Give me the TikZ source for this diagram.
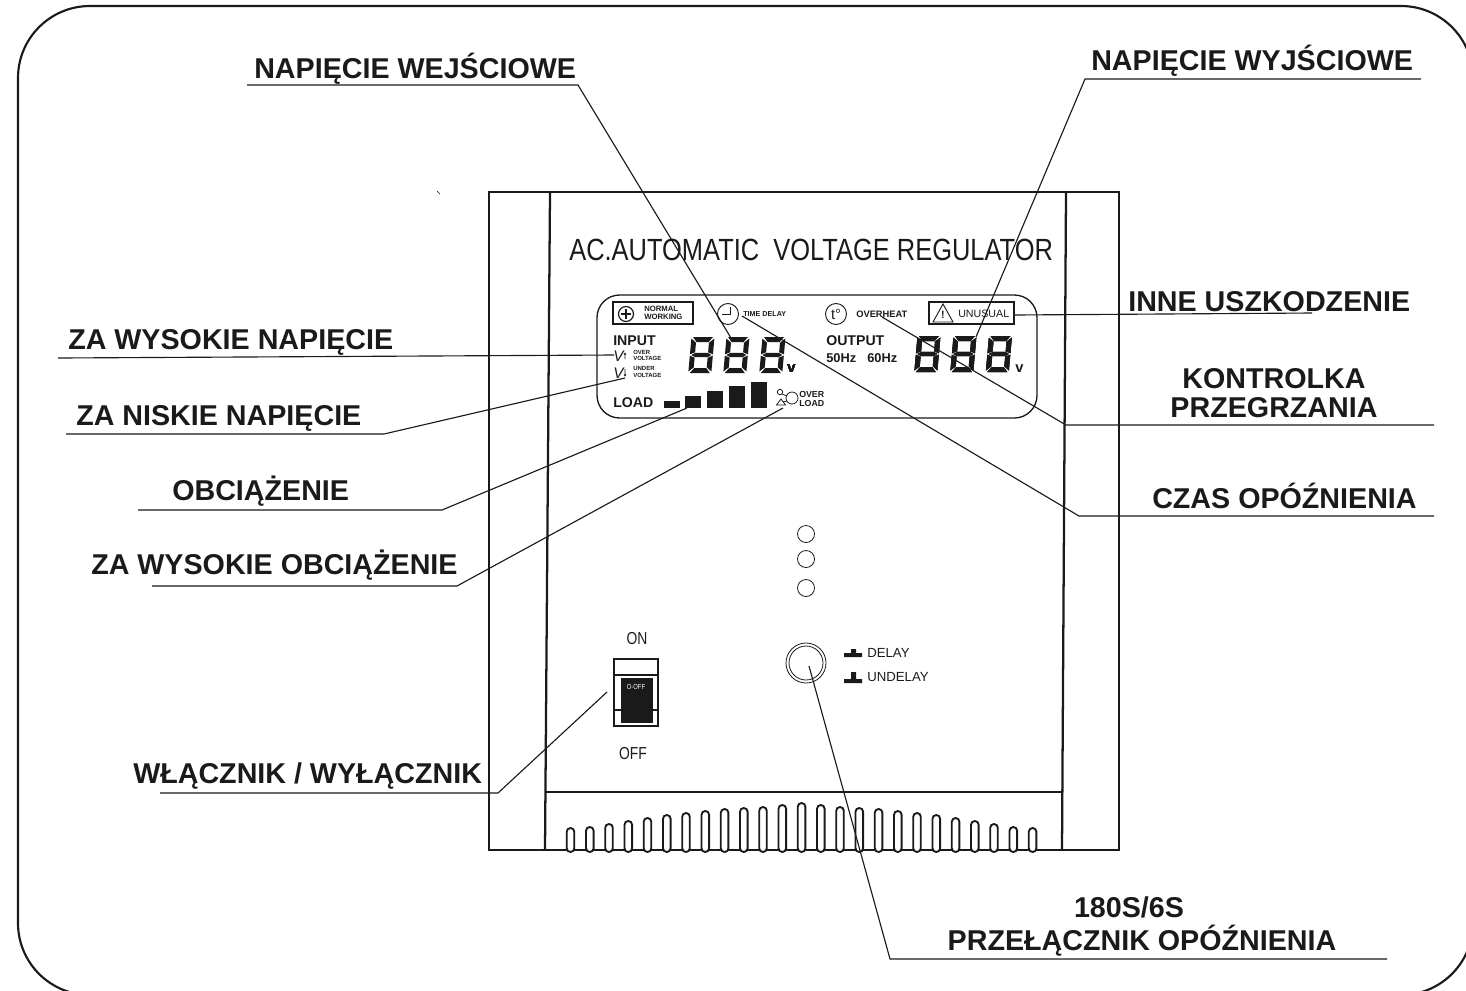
\documentclass[tikz,border=0pt]{standalone}
\usepackage{fontspec}
\setmainfont{Liberation Sans}
\newfontfamily\narrowfont[FakeStretch=0.8]{Liberation Sans}
\newfontfamily\titlefont[FakeStretch=0.83]{Liberation Sans}
\definecolor{ink}{HTML}{1A1A1A}
\tikzset{
	lbl/.style={font=\bfseries\fontsize{21.5}{24}\selectfont,inner sep=0,anchor=base west,text=ink},
	lblc/.style={lbl,anchor=base},
	lead/.style={ink,line width=0.85pt},
	body/.style={ink,line width=1.7pt},
	tiny/.style={font=\bfseries\fontsize{5.8}{6.2}\selectfont,inner sep=0,align=left,anchor=west,text=ink},
	small/.style={tiny,font=\bfseries\fontsize{4.5}{4.8}\selectfont},
	lcd/.style={font=\bfseries\fontsize{10.6}{11}\selectfont,inner sep=0,anchor=west,text=ink},
	hertz/.style={lcd,font=\bfseries\fontsize{9.6}{10}\selectfont},
	volt/.style={lcd,font=\mdseries\itshape\fontsize{11.5}{12}\selectfont},
	thin/.style={font=\fontsize{9.9}{10}\selectfont,inner sep=0,anchor=west,text=ink},
	condensed/.style={font=\narrowfont\fontsize{13}{14}\selectfont,inner sep=0,text=ink}
}
\newcommand{\segdigit}[2]{
	\begin{scope}[shift={(#1,#2)},xslant=0.09]
		\fill[ink] (1.5,0) -- (21.5,0) -- (17.5,5) -- (5.5,5) -- cycle
			(1.5,36) -- (21.5,36) -- (17.5,31) -- (5.5,31) -- cycle
			(0,1.5) -- (5,5.7) -- (5,15.3) -- (0,17.3) -- cycle
			(0,18.7) -- (5,20.7) -- (5,30.3) -- (0,34.5) -- cycle
			(23,1.5) -- (18,5.7) -- (18,15.3) -- (23,17.3) -- cycle
			(23,18.7) -- (18,20.7) -- (18,30.3) -- (23,34.5) -- cycle
			(1.5,18) -- (5.5,15.8) -- (17.5,15.8) -- (21.5,18) -- (17.5,20.2) -- (5.5,20.2) -- cycle;
	\end{scope}
}
\begin{document}
\begin{tikzpicture}[x=0.75pt,y=-0.75pt]
	\useasboundingbox (0,0) rectangle (1466,990);
	\clip (0,0) rectangle (1466,990);

	% frame
	\draw[ink,line width=1.6pt,rounded corners=54pt] (18,6) rectangle (1473,995);

	% cabinet
	\draw[body] (489,192) rectangle (1119,850);
	\draw[body] (550,192) -- (545,850);
	\draw[body] (1066,192) -- (1062,850);
	\draw[body] (545,792) -- (1062,792);
	\foreach \vx/\vy in {570.5/828,589.8/827,609/824,628.3/821,647.5/818,666.8/815,686/813,705.3/811,724.6/809,743.8/808,763/807,782.3/805,801.6/803,820.8/805,840/807,859.3/808,878.6/809,897.8/811,917/813,936.3/815,955.6/818,974.8/821,994/824,1013.3/827,1032.6/828}
		\draw[ink,line width=1.4pt,fill=white,rounded corners=2.8pt] (\vx-3.8,\vy) rectangle (\vx+3.8,852);
	\node[font=\titlefont\fontsize{23}{25}\selectfont,inner sep=0,anchor=base west,text=ink] (title) at (569,260) {AC.AUTOMATIC\ \ VOLTAGE REGULATOR};
	\draw[ink,line width=0.4pt] (437,191) -- (440,194);

	% display
	\draw[ink,line width=1pt,rounded corners=17pt] (597,295) rectangle (1037,418);
	\draw[ink,line width=0.9pt] (613,302) rectangle (693,324);
	\draw[ink,line width=0.9pt] (626,314) circle(7.5);
	\draw[ink,line width=1.1pt] (621,314) -- (631,314) (626,309) -- (626,319);
	\node[tiny] (normal) at (644,313) {NORMAL\\WORKING};
	\draw[ink,line width=0.7pt] (728,314) circle(10.5);
	\draw[ink,line width=0.7pt] (730,307) -- (730,314) -- (722,314);
	\node[tiny,font=\bfseries\fontsize{5.4}{6}\selectfont] (timedelay) at (743,314) {TIME DELAY};
	\draw[ink,line width=0.7pt] (836,314) circle(10.5);
	\node[font=\fontsize{11}{12}\selectfont,inner sep=0,text=ink] (tdeg) at (836,314) {t\textdegree};
	\node[tiny,font=\bfseries\fontsize{7}{7}\selectfont] (overheat) at (856,314) {OVERHEAT};
	\draw[ink,line width=0.9pt] (929,302) rectangle (1014,324);
	\draw[ink,line width=0.7pt] (943,304) -- (933,322) -- (953,322) -- cycle;
	\node[font=\bfseries\fontsize{8}{8}\selectfont,inner sep=0,text=ink] (warn) at (943,315) {!};
	\node[thin,font=\fontsize{8}{8}\selectfont] (unusual) at (958,314) {UNUSUAL};
	\node[lcd] (input) at (613,341) {INPUT};
	\node[volt] (vup) at (613,356) {V};
	\draw[ink,line width=0.5pt] (625,359) -- (625,353) (624,354.5) -- (625,353) -- (626,354.5);
	\node[small] (overv) at (633,355.5) {OVER\\VOLTAGE};
	\node[volt] (vdn) at (613,373) {V};
	\draw[ink,line width=0.5pt] (625,369) -- (625,376) (624,374.5) -- (625,376) -- (626,374.5);
	\node[small] (underv) at (633,372) {UNDER\\VOLTAGE};
	\node[lcd] (load) at (613,403) {LOAD};
	\foreach \bx/\by in {664/401,685/396,707/391,729/386,751/382}
		\fill[ink] (\bx,\by) rectangle (\bx+16,408);
	\draw[ink,line width=0.6pt] (780,392) circle(2.7);
	\draw[ink,line width=0.6pt] (781,399) -- (776.5,405) -- (785.5,405) -- cycle;
	\draw[ink,line width=0.6pt] (792,398) circle(6);
	\draw[ink,line width=0.6pt] (782,394) -- (787,396) (783,402) -- (787,401);
	\node[tiny,font=\bfseries\fontsize{6.6}{6.8}\selectfont] (overload) at (799,399) {OVER\\LOAD};
	\node[lcd] (output) at (826,341) {OUTPUT};
	\node[hertz] (fifty) at (826,358) {50Hz};
	\node[hertz] (sixty) at (867,358) {60Hz};
	\foreach \dx in {691.5,726.5,762.5}
		\segdigit{\dx}{337}
	\foreach \dx in {917.5,953.5,989}
		\segdigit{\dx}{336}
	\node[lcd,font=\bfseries\fontsize{11}{11}\selectfont] (vone) at (787,369) {v};
	\node[lcd,font=\bfseries\fontsize{11}{11}\selectfont] (vtwo) at (1015,369) {v};

	% lamps and knob
	\draw[ink,line width=0.6pt] (806,534) circle(8.5);
	\draw[ink,line width=0.6pt] (806,559) circle(8.5);
	\draw[ink,line width=0.6pt] (806,588) circle(8.5);
	\draw[ink,line width=0.6pt] (806,663) circle(20);
	\draw[ink,line width=0.6pt] (806,663) circle(17);
	\fill[ink] (844,653) rectangle (862,657) (851,649) rectangle (856,653);
	\fill[ink] (844,679) rectangle (862,683) (851,672) rectangle (856,679);
	\node[thin] (delay) at (867,652.5) {DELAY};
	\node[thin] (undelay) at (867,677.5) {UNDELAY};

	% switch
	\node[condensed] (on) at (637,638.5) {ON};
	\node[condensed] (off) at (633,754) {OFF};
	\draw[ink,line width=1.5pt] (614,659) rectangle (658,726);
	\draw[ink,line width=1.2pt] (614,675) -- (658,675);
	\fill[ink] (621,678) rectangle (653,723);
	\draw[ink,line width=1.2pt] (614,710) -- (658,710);
	\node[font=\narrowfont\fontsize{5.5}{6}\selectfont,inner sep=0,text=white] (ooff) at (636,687) {O-OFF};

	% labels
	\node[lbl] (wej) at (254,78) {NAPIĘCIE WEJŚCIOWE};
	\node[lbl] (wyj) at (1091,70.5) {NAPIĘCIE WYJŚCIOWE};
	\node[lbl] (zwn) at (68,349) {ZA WYSOKIE NAPIĘCIE};
	\node[lbl] (znn) at (76,425) {ZA NISKIE NAPIĘCIE};
	\node[lbl] (obc) at (172,500) {OBCIĄŻENIE};
	\node[lbl] (zwo) at (91,574) {ZA WYSOKIE OBCIĄŻENIE};
	\node[lbl] (wlk) at (133,783) {WŁĄCZNIK / WYŁĄCZNIK};
	\node[lbl] (inne) at (1128,311) {INNE USZKODZENIE};
	\node[lblc] (kon) at (1274,388) {KONTROLKA};
	\node[lblc] (prz) at (1274,417) {PRZEGRZANIA};
	\node[lbl] (czas) at (1152,508) {CZAS OPÓŹNIENIA};
	\node[lblc] (cs) at (1129,917) {180S/6S};
	\node[lblc] (prl) at (1142,950) {PRZEŁĄCZNIK OPÓŹNIENIA};

	% leaders
	\coordinate (a1) at (247,85);
	\coordinate (a2) at (578,85);
	\coordinate (a3) at (731,338);
	\draw[lead] (a1) -- (a2) -- (a3);
	\coordinate (b1) at (1421,79);
	\coordinate (b2) at (1085,79);
	\coordinate (b3) at (976,337);
	\draw[lead] (b1) -- (b2) -- (b3);
	\coordinate (c1) at (58,358);
	\coordinate (c2) at (614,355);
	\draw[lead] (c1) -- (c2);
	\coordinate (d1) at (66,434);
	\coordinate (d2) at (384,434);
	\coordinate (d3) at (625,378);
	\draw[lead] (d1) -- (d2) -- (d3);
	\coordinate (e1) at (138,510);
	\coordinate (e2) at (442,510);
	\coordinate (e3) at (687,408);
	\draw[lead] (e1) -- (e2) -- (e3);
	\coordinate (f1) at (152,586);
	\coordinate (f2) at (457,586);
	\coordinate (f3) at (783,408);
	\draw[lead] (f1) -- (f2) -- (f3);
	\coordinate (g1) at (160,793);
	\coordinate (g2) at (498,793);
	\coordinate (g3) at (607,692);
	\draw[lead] (g1) -- (g2) -- (g3);
	\coordinate (h1) at (1014,315);
	\coordinate (h2) at (1312,313);
	\draw[lead] (h1) -- (h2);
	\coordinate (i1) at (1434,425);
	\coordinate (i2) at (1066,425);
	\coordinate (i3) at (882,317);
	\draw[lead] (i1) -- (i2) -- (i3);
	\coordinate (j1) at (1434,516);
	\coordinate (j2) at (1079,516);
	\coordinate (j3) at (742,316);
	\draw[lead] (j1) -- (j2) -- (j3);
	\coordinate (k1) at (1387,959);
	\coordinate (k2) at (890,959);
	\coordinate (k3) at (809,666);
	\draw[lead] (k1) -- (k2) -- (k3);
\end{tikzpicture}
\end{document}
